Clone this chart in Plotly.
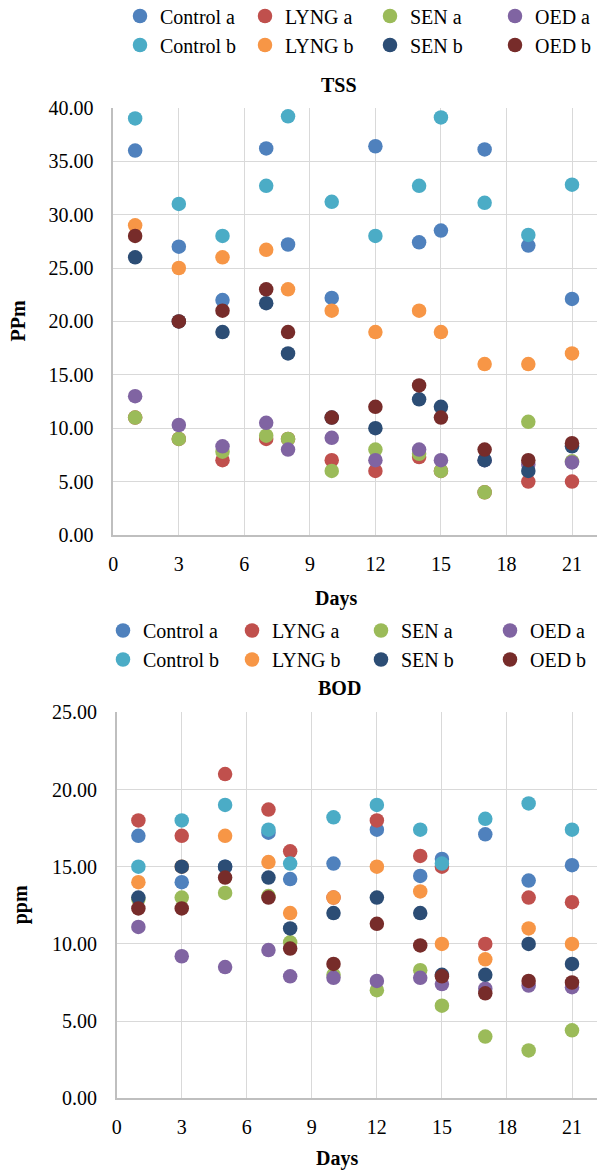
import plotly.graph_objects as go

W, H = 597, 1176

days = [1, 3, 5, 7, 8, 10, 12, 14, 15, 17, 19, 21]

series_names = ["Control a", "LYNG a", "SEN a", "OED a",
                "Control b", "LYNG b", "SEN b", "OED b"]
series_colors = ["#4F81BD", "#C0504D", "#9BBB59", "#8064A2",
                 "#4BACC6", "#F79646", "#2C4D75", "#772C2A"]

# TSS (ppm) per series, one value per sampling day
tss_control_a = [36.0, 27.0, 22.0, 36.2, 27.2, 22.2, 36.4, 27.4, 28.5, 36.1, 27.1, 22.1]
tss_lyng_a    = [11.0, 9.0, 7.0, 9.0, 9.0, 7.0, 6.0, 7.3, 6.0, 4.0, 5.0, 5.0]
tss_sen_a     = [11.0, 9.0, 7.8, 9.3, 9.0, 6.0, 8.0, 7.6, 6.0, 4.0, 10.6, 6.9]
tss_oed_a     = [13.0, 10.3, 8.3, 10.5, 8.0, 9.1, 7.0, 8.0, 7.0, 7.0, 6.6, 6.8]
tss_control_b = [39.0, 31.0, 28.0, 32.7, 39.2, 31.2, 28.0, 32.7, 39.1, 31.1, 28.1, 32.8]
tss_lyng_b    = [29.0, 25.0, 26.0, 26.7, 23.0, 21.0, 19.0, 21.0, 19.0, 16.0, 16.0, 17.0]
tss_sen_b     = [26.0, 20.0, 19.0, 21.7, 17.0, 11.0, 10.0, 12.7, 12.0, 7.0, 6.0, 8.3]
tss_oed_b     = [28.0, 20.0, 21.0, 23.0, 19.0, 11.0, 12.0, 14.0, 11.0, 8.0, 7.0, 8.6]

# BOD (ppm) per series
bod_control_a = [17.0, 14.0, 15.0, 17.2, 14.2, 15.2, 17.4, 14.4, 15.5, 17.1, 14.1, 15.1]
bod_lyng_a    = [18.0, 17.0, 21.0, 18.7, 16.0, 13.0, 18.0, 15.7, 15.0, 10.0, 13.0, 12.7]
bod_sen_a     = [12.9, 13.0, 13.3, 13.1, 10.1, 8.0, 7.0, 8.3, 6.0, 4.0, 3.1, 4.4]
bod_oed_a     = [11.1, 9.2, 8.5, 9.6, 7.9, 7.8, 7.6, 7.8, 7.4, 7.1, 7.3, 7.2]
bod_control_b = [15.0, 18.0, 19.0, 17.4, 15.2, 18.2, 19.0, 17.4, 15.2, 18.1, 19.1, 17.4]
bod_lyng_b    = [14.0, 15.0, 17.0, 15.3, 12.0, 13.0, 15.0, 13.4, 10.0, 9.0, 11.0, 10.0]
bod_sen_b     = [13.0, 15.0, 15.0, 14.3, 11.0, 12.0, 13.0, 12.0, 8.0, 8.0, 10.0, 8.7]
bod_oed_b     = [12.3, 12.3, 14.3, 13.0, 9.7, 8.7, 11.3, 9.9, 7.9, 6.8, 7.6, 7.5]

tss_values = [tss_control_a, tss_lyng_a, tss_sen_a, tss_oed_a,
              tss_control_b, tss_lyng_b, tss_sen_b, tss_oed_b]
bod_values = [bod_control_a, bod_lyng_a, bod_sen_a, bod_oed_a,
              bod_control_b, bod_lyng_b, bod_sen_b, bod_oed_b]

x_ticks = [0, 3, 6, 9, 12, 15, 18, 21]

FONT = "Liberation Serif, Times New Roman, serif"


def px_x(x):
    return x / W


def px_y(y):
    return 1 - y / H


fig = go.Figure()

for name, color, vals in zip(series_names, series_colors, tss_values):
    fig.add_trace(go.Scatter(
        x=days, y=vals, name=name, mode="markers",
        marker=dict(color=color, size=14.5, line=dict(width=0)),
        xaxis="x", yaxis="y", legend="legend"))

for name, color, vals in zip(series_names, series_colors, bod_values):
    fig.add_trace(go.Scatter(
        x=days, y=vals, name=name, mode="markers",
        marker=dict(color=color, size=14.5, line=dict(width=0)),
        xaxis="x2", yaxis="y2", legend="legend2"))

GRID = "#D9D9D9"
LINE = "#BFBFBF"

common_x = dict(
    tickvals=x_ticks, showgrid=True, gridcolor=GRID, gridwidth=1.2,
    showline=True, linecolor=LINE, linewidth=1.5, zeroline=False,
    ticks="", tickfont=dict(family=FONT, size=20, color="black"),
    ticklabelstandoff=10, fixedrange=True, automargin=False,
)
common_y = dict(
    showgrid=True, gridcolor=GRID, gridwidth=1.2,
    showline=True, linecolor=LINE, linewidth=1.5, zeroline=False,
    ticks="", tickformat=".2f", tickfont=dict(family=FONT, size=20, color="black"),
    ticklabelstandoff=14, fixedrange=True, automargin=False,
)

tss_left, tss_top, tss_bottom = 113.3, 107.8, 535.0
bod_left, bod_top, bod_bottom = 116.7, 712.3, 1098.3
x_max_tss = (W - tss_left) / ((572 - tss_left) / 21)
x_max_bod = (W - bod_left) / ((572 - bod_left) / 21)

legend_common = dict(
    orientation="h", xanchor="left", yanchor="top",
    font=dict(family=FONT, size=20, color="black"),
    bgcolor="rgba(0,0,0,0)", tracegroupgap=0,
    entrywidthmode="pixels", itemclick=False, itemdoubleclick=False,
)

fig.update_layout(
    width=W, height=H,
    margin=dict(l=0, r=0, t=0, b=0, autoexpand=False),
    paper_bgcolor="white", plot_bgcolor="white",
    font=dict(family=FONT, color="black"),
    showlegend=True,
    xaxis=dict(common_x, domain=[px_x(tss_left), 1], range=[0, x_max_tss], anchor="y"),
    yaxis=dict(common_y, domain=[px_y(tss_bottom), px_y(tss_top)], range=[0, 40],
               dtick=5, anchor="x"),
    xaxis2=dict(common_x, domain=[px_x(bod_left), 1], range=[0, x_max_bod], anchor="y2"),
    yaxis2=dict(common_y, domain=[px_y(bod_bottom), px_y(bod_top)], range=[0, 25],
                dtick=5, anchor="x2"),
    legend=dict(legend_common, x=px_x(120), y=px_y(-3.5), entrywidth=80),
    legend2=dict(legend_common, x=px_x(103), y=px_y(611), entrywidth=84),
)

title_font = dict(family=FONT, size=20, color="black")
labels = [
    ("<b>TSS</b>", 339, 85, 0),
    ("<b>BOD</b>", 339, 688, 0),
    ("<b>Days</b>", 336, 598, 0),
    ("<b>Days</b>", 337, 1158, 0),
    ("<b>PPm</b>", 18, (tss_top + tss_bottom) / 2, -90),
    ("<b>ppm</b>", 20, (bod_top + bod_bottom) / 2, -90),
]
for text, x, y, ang in labels:
    fig.add_annotation(text=text, x=px_x(x), y=px_y(y), xref="paper", yref="paper",
                       showarrow=False, font=title_font, textangle=ang,
                       xanchor="center", yanchor="middle")

fig.write_html("out.html")
